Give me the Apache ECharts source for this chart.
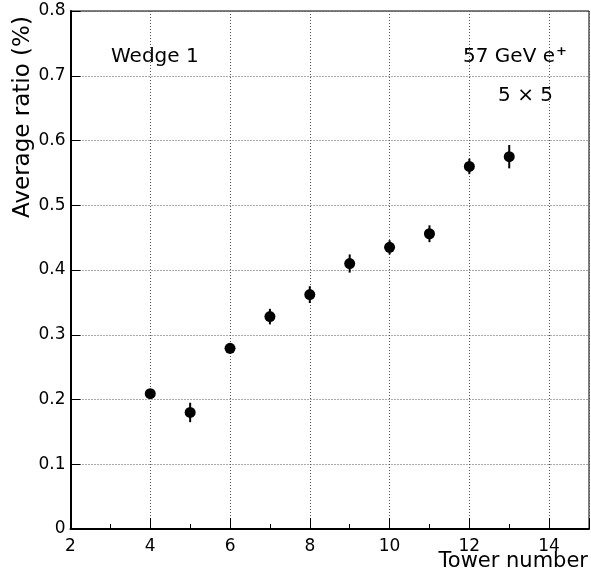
<!DOCTYPE html>
<html>
<head>
<meta charset="utf-8">
<script src="https://cdn.jsdelivr.net/npm/echarts@6/dist/echarts.min.js"></script>
<style>
html,body{margin:0;padding:0;background:#fff;}
#chart{width:591px;height:582px;}
</style>
</head>
<body>
<div id="chart"></div>
<script>
// Data
const towers = [4, 5, 6, 7, 8, 9, 10, 11, 12, 13];
const ratios = [0.209, 0.180, 0.279, 0.328, 0.362, 0.410, 0.435, 0.456, 0.560, 0.575];
const errors = [0.005, 0.015, 0.008, 0.012, 0.013, 0.014, 0.011, 0.013, 0.012, 0.018];
const xTitle = 'Tower number';
const yTitle = 'Average ratio (%)';
const labelWedge = 'Wedge 1';
const labelBeam = '57 GeV e';
const labelBeamSup = '+';
const labelCluster = '5 \u00d7 5';

const FONT = 'DejaVu Sans';
const points = towers.map((t, i) => [t, ratios[i]]);
const bars = towers.map((t, i) => [t, ratios[i], errors[i]]);

const chart = echarts.init(document.getElementById('chart'), null, {renderer: 'canvas'});
chart.setOption({
  animation: false,
  backgroundColor: '#fff',
  grid: {left: 70.5, right: 2, top: 11, bottom: 53, show: true, borderColor: '#000', borderWidth: 1, backgroundColor: 'transparent'},
  xAxis: {
    type: 'value', min: 2, max: 15, interval: 2,
    axisLine: {show: true, onZero: false, lineStyle: {color: '#000', width: 2}},
    axisTick: {show: true, inside: true, length: 11, lineStyle: {color: '#000', width: 1}},
    minorTick: {show: true, splitNumber: 2, length: 5, lineStyle: {color: '#000', width: 1}},
    splitLine: {show: true, lineStyle: {color: '#555', width: 1, type: [1, 2]}},
    axisLabel: {color: '#000', fontFamily: FONT, fontSize: 17, margin: 9, showMaxLabel: false}
  },
  yAxis: {
    type: 'value', min: 0, max: 0.8, interval: 0.1,
    axisLine: {show: true, onZero: false, lineStyle: {color: '#000', width: 2}},
    axisTick: {show: true, inside: true, length: 10, lineStyle: {color: '#000', width: 1}},
    splitLine: {show: true, lineStyle: {color: '#555', width: 1, type: [1, 2]}},
    axisLabel: {color: '#000', fontFamily: FONT, fontSize: 17, margin: 5,
      formatter: v => (Math.round(v * 10) / 10).toString()}
  },
  series: [
    {
      type: 'custom',
      data: bars,
      renderItem: function (params, api) {
        const x = api.value(0), y = api.value(1), e = api.value(2);
        const p1 = api.coord([x, y - e]);
        const p2 = api.coord([x, y + e]);
        return {type: 'line', shape: {x1: p1[0], y1: p1[1], x2: p2[0], y2: p2[1]},
          style: {stroke: '#000', lineWidth: 2}};
      },
      z: 3
    },
    {
      type: 'scatter',
      data: points,
      symbol: 'circle',
      symbolSize: 11,
      itemStyle: {color: '#000', opacity: 1},
      z: 4
    }
  ],
  graphic: [
    {type: 'text', left: 111, top: 47, style: {text: labelWedge, font: '20px "DejaVu Sans"', fill: '#000'}},
    {type: 'text', right: 36, top: 47, style: {text: labelBeam, font: '20px "DejaVu Sans"', fill: '#000'}},
    {type: 'text', left: 556, top: 45, style: {text: labelBeamSup, font: 'bold 13px "DejaVu Sans"', fill: '#000'}},
    {type: 'text', right: 38, top: 86, style: {text: labelCluster, font: '20px "DejaVu Sans"', fill: '#000'}},
    {type: 'text', right: 3, top: 551, style: {text: xTitle, font: '21px "DejaVu Sans"', fill: '#000'}},
    {type: 'text', x: 12, y: 218, rotation: Math.PI / 2,
      style: {text: yTitle, font: '23px "DejaVu Sans"', fill: '#000', textAlign: 'left', textVerticalAlign: 'top'}}
  ]
});
</script>
</body>
</html>
